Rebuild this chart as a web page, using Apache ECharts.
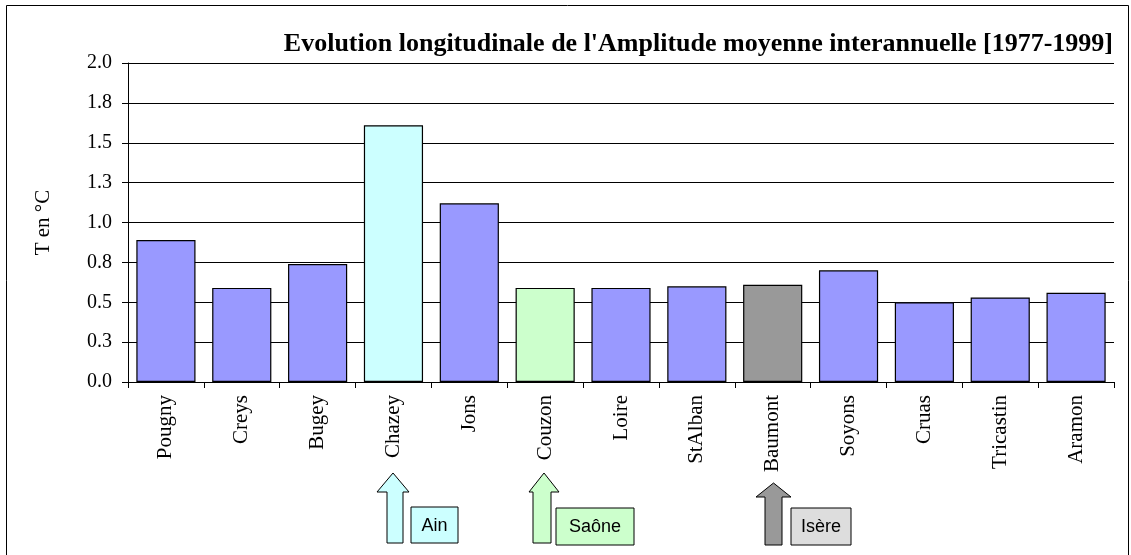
<!DOCTYPE html>
<html>
<head>
<meta charset="utf-8">
<title>Amplitude moyenne interannuelle</title>
<script src="https://cdn.jsdelivr.net/npm/echarts@6/dist/echarts.min.js"></script>
<style>
	html, body { margin: 0; padding: 0; background: #fff; }
	#chart { width: 1131px; height: 555px; }
</style>
</head>
<body>
<div id="chart"></div>
<script>
// stations le long du Rhône, de l'amont vers l'aval
const stations = ["Pougny", "Creys", "Bugey", "Chazey", "Jons", "Couzon", "Loire",
	"StAlban", "Baumont", "Soyons", "Cruas", "Tricastin", "Aramon"];
const amplitude = [0.89, 0.59, 0.74, 1.61, 1.12, 0.59, 0.59, 0.60, 0.61, 0.70, 0.50, 0.53, 0.56];
// couleur des barres : affluents en couleur propre
const barColors = ["#9999FF", "#9999FF", "#9999FF", "#CCFFFF", "#9999FF", "#CCFFCC", "#9999FF",
	"#9999FF", "#999999", "#9999FF", "#9999FF", "#9999FF", "#9999FF"];
const yTicks = [0, 0.25, 0.5, 0.75, 1, 1.25, 1.5, 1.75, 2];

const serif = "'Liberation Serif', 'Times New Roman', serif";
const sans = "'Liberation Sans', Arial, sans-serif";

const chart = echarts.init(document.getElementById("chart"));

// flèche verticale pointant vers le haut (annotation)
function arrow(x0, x1, hx0, hx1, tip, base, bottom, fill) {
	const cx = (hx0 + hx1) / 2;
	return {
		type: "polygon",
		shape: {
			points: [[cx, tip], [hx1, base], [x1, base], [x1, bottom],
				[x0, bottom], [x0, base], [hx0, base]],
		},
		style: { fill: fill, stroke: "#000", lineWidth: 1 },
	};
}

function label(x, y, w, h, text, fill) {
	return {
		type: "group",
		children: [
			{
				type: "rect",
				shape: { x: x, y: y, width: w, height: h },
				style: { fill: fill, stroke: "#000", lineWidth: 1 },
			},
			{
				type: "text",
				x: x + w / 2,
				y: y + h / 2 + 1,
				style: {
					text: text,
					font: "18px " + sans,
					fill: "#000",
					align: "center",
					verticalAlign: "middle",
				},
			},
		],
	};
}

chart.setOption({
	animation: false,
	backgroundColor: "#fff",
	title: {
		text: "Evolution longitudinale de l'Amplitude moyenne interannuelle [1977-1999]",
		right: 13,
		top: 26,
		textStyle: {
			fontFamily: serif,
			fontWeight: "bold",
			fontSize: 26,
			color: "#000",
		},
	},
	grid: {
		left: 128,
		right: 17,
		top: 63,
		bottom: 173,
		containLabel: false,
	},
	xAxis: {
		type: "category",
		data: stations,
		axisLine: { lineStyle: { color: "#000", width: 1 } },
		axisTick: { show: true, length: 6, lineStyle: { color: "#000" } },
		axisLabel: {
			rotate: 90,
			margin: 13,
			interval: 0,
			fontFamily: serif,
			fontSize: 21,
			color: "#000",
		},
	},
	yAxis: {
		type: "value",
		min: 0,
		max: 2,
		interval: 0.25,
		name: "T en °C",
		nameLocation: "middle",
		nameGap: 74,
		nameTextStyle: { fontFamily: serif, fontSize: 21, color: "#000" },
		axisLine: { show: true, lineStyle: { color: "#000", width: 1 } },
		axisTick: { show: true, inside: false, length: 6, lineStyle: { color: "#000" } },
		axisLabel: {
			margin: 16,
			fontFamily: serif,
			fontSize: 20,
			color: "#000",
			formatter: (v) => v.toFixed(1),
		},
		splitLine: { lineStyle: { color: "#000", width: 1 } },
	},
	series: [
		{
			type: "bar",
			barCategoryGap: "22%",
			data: amplitude.map((v, i) => ({
				value: v,
				itemStyle: { color: barColors[i] },
			})),
			itemStyle: { borderColor: "#000", borderWidth: 1.2 },
		},
	],
	graphic: [
		{
			type: "rect",
			shape: { x: 6.5, y: 5.5, width: 1122, height: 560 },
			style: { fill: null, stroke: "#000", lineWidth: 1 },
			silent: true,
		},
		arrow(387, 403, 377, 409, 473, 492, 543, "#CCFFFF"),
		label(411, 507, 47, 36, "Ain", "#CCFFFF"),
		arrow(533, 551, 529, 559, 473, 492, 543, "#CCFFCC"),
		label(556, 508, 78, 37, "Saône", "#CCFFCC"),
		arrow(765, 782, 756, 791, 483, 497, 545, "#999999"),
		label(791, 508, 60, 37, "Isère", "#DDDDDD"),
	],
});
</script>
</body>
</html>
